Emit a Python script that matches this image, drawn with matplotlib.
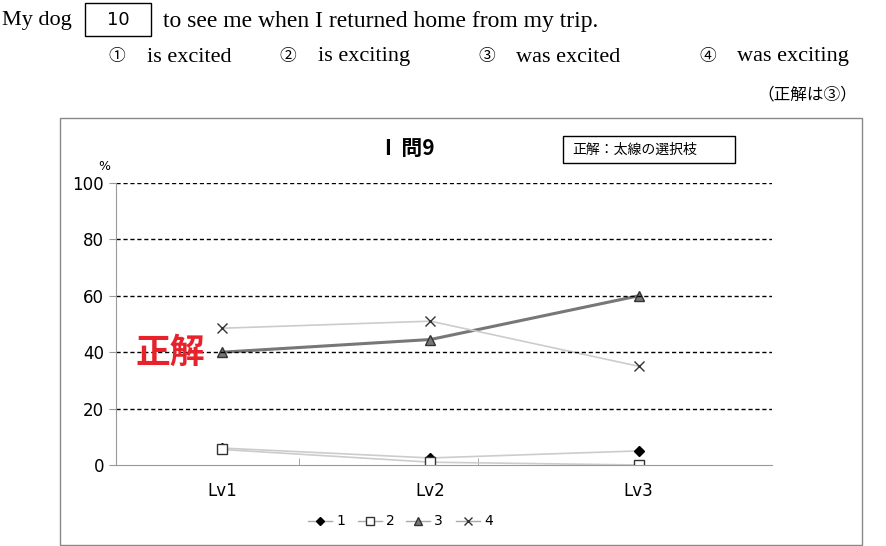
import matplotlib
matplotlib.use('Agg')
import matplotlib.pyplot as plt
from matplotlib.patches import Rectangle

levels = ["Lv1", "Lv2", "Lv3"]
s1 = [6, 2.5, 5]
s2 = [5.5, 1, 0]
s3 = [40, 44.5, 60]
s4 = [48.5, 51, 35]
yticks = [0, 20, 40, 60, 80, 100]

SERIF = ['Liberation Serif', 'Noto Sans CJK JP']
CJK = ['Noto Sans CJK JP', 'DejaVu Sans']
W, H = 886, 546
fig = plt.figure(figsize=(W / 100, H / 100), dpi=100)

def px(x, y):
    return x / W, 1 - y / H

# --- question text ---
fig.text(*px(2, 21), "My dog", family=SERIF, fontsize=16, va='center')
fig.patches.append(Rectangle(px(85, 36), 66 / W, 33 / H, transform=fig.transFigure,
                             fill=False, lw=1, ec='black'))
fig.text(*px(118, 20), "10", family='DejaVu Sans', fontsize=13, ha='center', va='center')
fig.text(*px(163, 21), "to see me when I returned home from my trip.", family=SERIF, fontsize=17, va='center')
opts = [(108, "①", 147, "is excited"), (279, "②", 318, "is exciting"),
        (478, "③", 516, "was excited"), (699, "④", 737, "was exciting")]
for cx, n, tx, t in opts:
    fig.text(*px(cx, 57), n, family=CJK, fontsize=12, va='center')
    fig.text(*px(tx, 57), t, family=SERIF, fontsize=16, va='center')
fig.text(*px(857, 95), "（正解は③）", family=CJK, fontsize=12, ha='right', va='center')

# --- chart frame ---
fig.patches.append(Rectangle(px(60, 545), 802 / W, 427 / H, transform=fig.transFigure,
                             fill=False, lw=1, ec='#888888'))

ax = fig.add_axes([116 / W, 1 - 465 / H, (772 - 116) / W, (465 - 183) / H])
x = range(len(levels))
ax.plot(x, s1, color='#cccccc', lw=1.2, marker='D', ms=5, mfc='black', mec='black')
ax.plot(x, s2, color='#cccccc', lw=1.2, marker='s', ms=7, mfc='white', mec='#333333')
ax.plot(x, s3, color='#777777', lw=2.2, marker='^', ms=7, mfc='#777777', mec='#333333')
ax.plot(x, s4, color='#cccccc', lw=1.2, marker='x', ms=7, mec='#333333')

ax.set_xlim(-0.51, 2.64)
ax.set_ylim(0, 100)
ax.set_yticks(yticks)
ax.set_xticks(list(x))
ax.set_xticklabels(levels)
ax.set_xticks([0.37, 1.23], minor=True)
ax.tick_params(axis='x', which='major', length=0, pad=12, labelsize=12)
ax.tick_params(axis='x', which='minor', length=5, color='#999999', direction='in')
ax.tick_params(axis='y', length=5, color='#999999', labelsize=12)
for v in yticks[1:]:
    ax.axhline(v, color='black', lw=1, ls=(0, (3, 2)))
for s in ['top', 'right']:
    ax.spines[s].set_visible(False)
ax.spines['left'].set_color('#999999')
ax.spines['bottom'].set_color('#999999')

fig.text(*px(104, 166), "%", fontsize=9, ha='center', va='center')
fig.text(*px(410, 148), "I  問9", family=CJK, fontsize=15, fontweight='bold', ha='center', va='center')
fig.patches.append(Rectangle(px(563, 163), 172 / W, 27 / H, transform=fig.transFigure,
                             fill=False, lw=1, ec='black'))
fig.text(*px(572, 150), "正解：太線の選択枝", family=CJK, fontsize=10, va='center')
fig.text(*px(170, 352), "正解", family=CJK, fontsize=25, fontweight='bold', color='#e8222b',
         ha='center', va='center')

# legend
leg = [("1", 'D', 'black', 'black'), ("2", 's', 'white', '#333333'),
       ("3", '^', '#777777', '#333333'), ("4", 'x', 'none', '#333333')]
lx = [320, 370, 418, 468]
for (lab, m, fc, ec), x0 in zip(leg, lx):
    fx, fy = px(x0, 521)
    fig.add_artist(plt.Line2D([fx - 12 / W, fx + 12 / W], [fy, fy], color='#aaaaaa', lw=1,
                              transform=fig.transFigure))
    fig.add_artist(plt.Line2D([fx], [fy], marker=m, ms=6 if m != 'D' else 4.5, mfc=fc, mec=ec,
                              transform=fig.transFigure))
    fig.text(fx + 16 / W, fy, lab, fontsize=10, va='center')

fig.savefig("out.png", dpi=100)
